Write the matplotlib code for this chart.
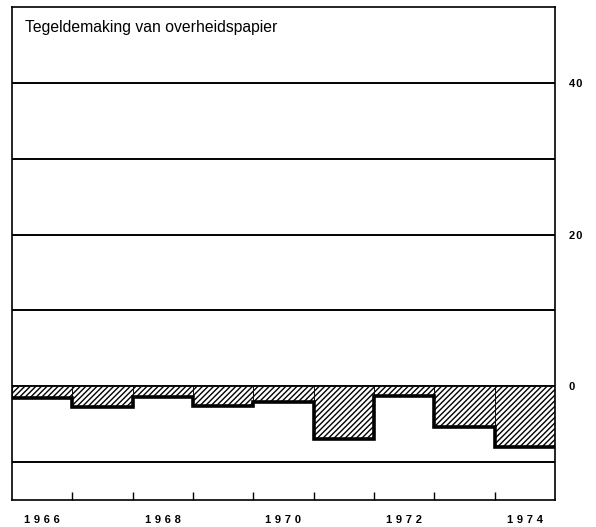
import numpy as np
import matplotlib
matplotlib.use("Agg")
import matplotlib.pyplot as plt

# Annual values (billions), 1966-1974
years = np.arange(1966, 1975)
values = [-1.6, -2.8, -1.4, -2.6, -2.1, -7.0, -1.3, -5.35, -8.05]
grid_levels = [-10, 0, 10, 20, 30, 40]
ytick_values = [0, 20, 40]
ytick_labels = ["0", "2\u200a0", "4\u200a0"]
xtick_values = [1966, 1968, 1970, 1972, 1974]
xtick_labels = ["\u2004".join(str(y)) for y in xtick_values]
title = "Tegeldemaking van overheidspapier"

plt.rcParams["font.family"] = ["Liberation Sans", "DejaVu Sans"]
plt.rcParams["hatch.linewidth"] = 1.0

fig = plt.figure(figsize=(5.96, 5.27), dpi=100)
ax = fig.add_axes([12 / 596, 27 / 527, 543 / 596, 493 / 527])

ax.set_xlim(1965.5, 1974.5)
ax.set_ylim(-15, 50)

for lvl in grid_levels:
    ax.axhline(lvl, color="black", linewidth=1.4, zorder=1)

ax.bar(years, values, width=1.0, facecolor="white", edgecolor="black",
       linewidth=0.6, hatch="//////", zorder=2)
edges = np.append(years - 0.5, years[-1] + 0.5)
ax.stairs(values, edges, baseline=None, color="black", linewidth=2.6, zorder=3)

for s in ax.spines.values():
    s.set_linewidth(1.2)

ax.yaxis.tick_right()
ax.set_yticks(ytick_values)
ax.set_yticklabels(ytick_labels, fontsize=8, fontweight="bold")
ax.tick_params(axis="y", length=0, pad=10)

ax.set_xticks(xtick_values)
ax.set_xticklabels(xtick_labels, fontsize=8, fontweight="bold")
ax.set_xticks(years[:-1] + 0.5, minor=True)
ax.tick_params(axis="x", which="major", length=0, pad=11)
ax.tick_params(axis="x", which="minor", direction="in", length=6, width=1)

ax.text(0.024, 0.974, title, transform=ax.transAxes, fontsize=11.3,
        ha="left", va="top")

fig.savefig("out.png", dpi=100)
